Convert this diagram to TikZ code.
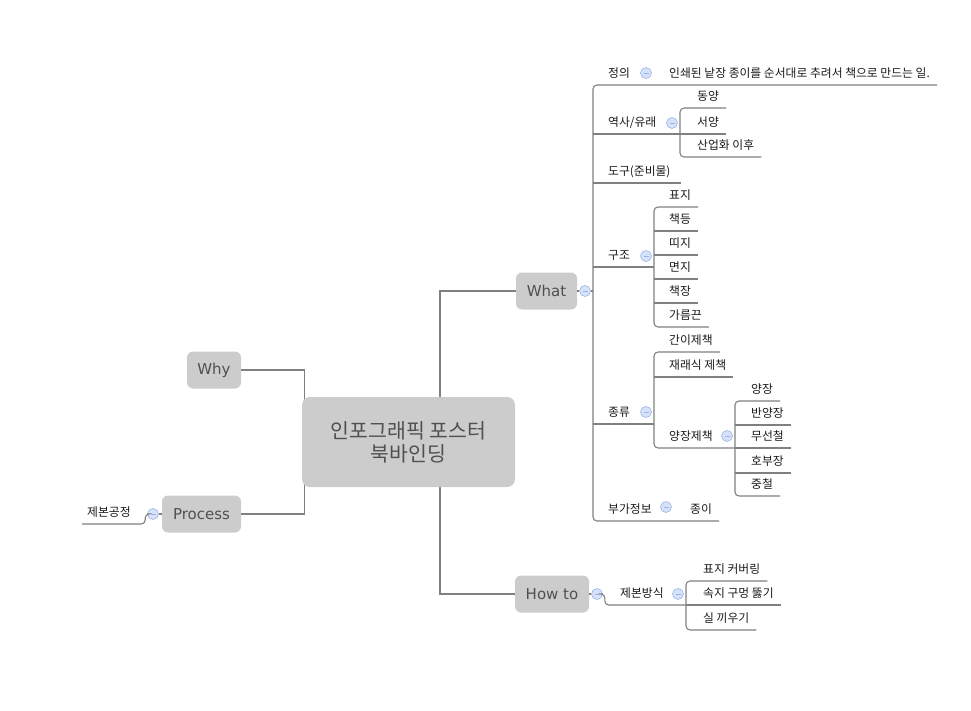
\documentclass[tikz,border=0pt]{standalone}
\usepackage{fontspec}
\setmainfont{Noto Sans CJK KR}
\newfontfamily\topicfont{DejaVu Sans}
\usepackage{tikz}
\definecolor{boxgray}{HTML}{CCCCCC}
\definecolor{topictext}{HTML}{505050}
\definecolor{linegray}{HTML}{808080}
\definecolor{foldfill}{HTML}{D6E2FA}
\definecolor{foldline}{HTML}{9DB3E6}
\pgfdeclarelayer{bg}
\pgfsetlayers{bg,main}
\def\pad{7pt}

\begin{document}
\begin{tikzpicture}[x=1pt,y=-1pt,
  hub/.style={fill=boxgray,rounded corners=8pt,text=topictext,align=center,
    font=\fontsize{20.5}{23}\selectfont,minimum width=213pt,minimum height=90pt},
  topic/.style={fill=boxgray,rounded corners=6pt,text=topictext,
    font=\topicfont\fontsize{15}{18}\selectfont,minimum height=37pt,inner xsep=0pt},
  leaf/.style={anchor=south west,inner sep=0pt,text height=9pt,text depth=7.5pt,
    text=black!90,font=\fontsize{11.8}{13}\selectfont},
  fold/.style={circle,draw=foldline,fill=foldfill,line width=.6pt,minimum size=11pt,inner sep=0pt,
    path picture={\draw[foldline,line width=.8pt] ([xshift=-2.5pt]path picture bounding box.center)
      -- ([xshift=2.5pt]path picture bounding box.center);}},
  trunk/.style={draw=linegray,line width=1.2pt},
  link/.style={draw=linegray,line width=1.1pt,rounded corners=4pt}]
\useasboundingbox (0,0) rectangle (971,711);

% main topics
\node[hub] (book) at (408.5,442) {인포그래픽 포스터\\북바인딩};
\node[topic,minimum width=54pt] (why) at (214,370) {Why};
\node[topic,minimum width=79pt] (process) at (201.5,514) {Process};
\node[topic,minimum width=61pt] (what) at (546.5,291) {What};
\node[topic,minimum width=74pt] (howto) at (552,594) {How to};
\begin{pgfonlayer}{bg}
\draw[trunk] (why.east) -| ([xshift=3pt]book.west);
\draw[trunk] (process.east) -| ([xshift=3pt]book.west);
\draw[trunk] (what.west) -| ([xshift=31.5pt]book.center);
\draw[trunk] (howto.west) -| ([xshift=31.5pt]book.center);
\end{pgfonlayer}

% What
\node[fold] (whatfold) at (585,291) {};
\coordinate (whatT) at (593,291);
\node[leaf] (def) at (608,85) {정의};
\node[fold] (deffold) at (646,73) {};
\node[leaf] (defnote) at (669,85) {인쇄된 낱장 종이를 순서대로 추려서 책으로 만드는 일.};
\node[leaf] (history) at (608,134) {역사/유래};
\node[fold] (histfold) at (672,123) {};
\coordinate (histT) at (680,134);
\node[leaf] (east) at (697,108) {동양};
\node[leaf] (west) at (697,134) {서양};
\node[leaf] (industry) at (697,157) {산업화 이후};
\node[leaf] (tools) at (608,183) {도구(준비물)};
\node[leaf] (structure) at (608,267) {구조};
\node[fold] (structfold) at (646,256) {};
\coordinate (structT) at (654,267);
\foreach \n/\t/\y in {cover/표지/207,spine/책등/231,band/띠지/255,endpaper/면지/279,page/책장/303,ribbon/가름끈/327}
  \node[leaf] (\n) at (669,\y) {\t};
\node[leaf] (kinds) at (608,424) {종류};
\node[fold] (kindfold) at (646,412) {};
\coordinate (kindT) at (654,424);
\foreach \n/\t/\y in {simple/간이제책/352,trad/재래식 제책/377,hard/양장제책/448}
  \node[leaf] (\n) at (669,\y) {\t};
\node[fold] (hardfold) at (727,436) {};
\coordinate (hardT) at (735,448);
\foreach \n/\t/\y in {full/양장/401,half/반양장/425,perfect/무선철/448,hobu/호부장/473,saddle/중철/496}
  \node[leaf] (\n) at (751,\y) {\t};
\node[leaf] (extra) at (608,521) {부가정보};
\node[fold] (extrafold) at (666,507) {};
\node[leaf] (paper) at (690,521) {종이};

\draw[link] (what.east) -- (whatfold.west);
\draw[link] (whatfold.east) -- (whatT);
\draw[link] ([xshift=\pad]defnote.south east) -- (whatT |- def.south) -- (whatT |- extra.south) -- ([xshift=\pad]paper.south east);
\draw[link] (whatT |- history.south) -- (histT);
\draw[link] (whatT |- tools.south) -- ([xshift=10pt]tools.south east);
\draw[link] (whatT |- structure.south) -- (structT);
\draw[link] (whatT |- kinds.south) -- (kindT);
\draw[link] ([xshift=\pad]east.south east) -- (histT |- east.south) -- (histT |- industry.south) -- ([xshift=\pad]industry.south east);
\draw[link] (histT |- west.south) -- ([xshift=\pad]west.south east);
\draw[link] ([xshift=\pad]cover.south east) -- (structT |- cover.south) -- (structT |- ribbon.south) -- ([xshift=\pad]ribbon.south east);
\foreach \n in {spine,band,endpaper,page}
  \draw[link] (structT |- \n.south) -- ([xshift=\pad]\n.south east);
\draw[link] ([xshift=\pad]simple.south east) -- (kindT |- simple.south) -- (kindT |- hard.south) -- (hardT);
\draw[link] (kindT |- trad.south) -- ([xshift=\pad]trad.south east);
\draw[link] ([xshift=\pad]full.south east) -- (hardT |- full.south) -- (hardT |- saddle.south) -- ([xshift=\pad]saddle.south east);
\foreach \n in {half,perfect,hobu}
  \draw[link] (hardT |- \n.south) -- ([xshift=\pad]\n.south east);

% How to
\node[fold] (howfold) at (597,594) {};
\node[leaf] (method) at (620,605) {제본방식};
\node[fold] (methodfold) at (678,594) {};
\coordinate (methodT) at (686,605);
\foreach \n/\t/\y in {covering/표지 커버링/581,punching/속지 구멍 뚫기/605,sewing/실 끼우기/630}
  \node[leaf] (\n) at (703,\y) {\t};
\draw[link] (howto.east) -- (howfold.west);
\draw[link] (howfold.east) -- ([xshift=2pt]howfold.east) |- (methodT);
\draw[link] ([xshift=\pad]covering.south east) -- (methodT |- covering.south) -- (methodT |- sewing.south) -- ([xshift=\pad]sewing.south east);
\draw[link] (methodT) -- ([xshift=\pad]punching.south east);

% Process
\node[fold] (procfold) at (153,514) {};
\node[leaf] (procnote) at (87,524) {제본공정};
\draw[link] (process.west) -- (procfold.east);
\draw[link] (procfold.west) -- ([xshift=-2pt]procfold.west) |- ([xshift=-5pt]procnote.south west);
\end{tikzpicture}
\end{document}
